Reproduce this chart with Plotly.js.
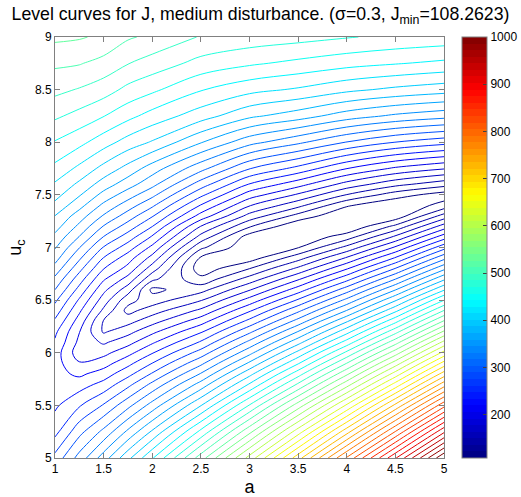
<!DOCTYPE html>
<html><head><meta charset="utf-8">
<script src="https://cdn.plot.ly/plotly-3.0.1.min.js"></script>
<style>html,body{margin:0;padding:0;background:#fff}</style>
</head><body><div id="chart" style="width:521px;height:497px"></div>
<script>
// grid coordinates (a along x, u_c along y)
const aValues = [1, 1.25, 1.5, 1.75, 2, 2.5, 3, 3.5, 4, 4.5, 5];
const ucValues = [5, 5.25, 5.5, 5.7, 5.8, 5.9, 6, 6.1, 6.2, 6.3, 6.4, 6.5, 6.6, 6.7, 6.8, 6.9, 7, 7.1, 7.2, 7.3, 7.4, 7.5, 7.6, 7.75, 8, 8.25, 8.5, 8.75, 9];
// J values, one column per a value (rows follow ucValues)
const J_a1_00 = [289, 260, 245, 238, 237, 238, 240, 246, 252, 263, 275, 287, 301, 314, 329, 343, 355, 366, 378, 388, 401, 412, 421, 436, 457, 479, 498, 514, 532];
const J_a1_25 = [325, 295, 264, 240, 227, 215, 203, 209, 214, 223, 234, 246, 260, 274, 289, 304, 319, 335, 349, 362, 377, 390, 402, 419, 446, 470, 492, 512, 530];
const J_a1_50 = [362, 323, 285, 254, 239, 223, 208, 193, 176, 177, 192, 205, 218, 233, 249, 265, 282, 300, 317, 334, 349, 365, 380, 400, 431, 459, 484, 505, 525];
const J_a1_75 = [401, 357, 313, 278, 260, 243, 225, 207, 190, 172, 155, 167, 187, 207, 225, 239, 257, 275, 293, 310, 327, 344, 361, 382, 416, 446, 471, 494, 513];
const J_a2_00 = [439, 391, 343, 305, 285, 266, 247, 228, 209, 189, 170, 151, 139, 165, 187, 207, 226, 246, 266, 285, 304, 323, 341, 362, 404, 434, 462, 486, 507];
const J_a2_50 = [520, 463, 405, 360, 337, 314, 291, 268, 246, 223, 200, 177, 154, 131, 115, 123, 147, 172, 195, 224, 247, 270, 292, 324, 372, 414, 442, 470, 492];
const J_a3_00 = [605, 541, 477, 425, 400, 374, 348, 323, 297, 271, 246, 220, 194, 168, 143, 117, 112, 117, 145, 172, 197, 222, 247, 284, 342, 392, 429, 461, 486];
const J_a3_50 = [696, 625, 554, 496, 468, 439, 411, 382, 354, 325, 297, 268, 239, 211, 182, 154, 125, 111, 111, 137, 166, 193, 220, 260, 322, 379, 421, 454, 482];
const J_a4_00 = [793, 714, 636, 573, 542, 511, 480, 448, 417, 386, 354, 323, 292, 260, 229, 198, 166, 135, 110, 110, 128, 160, 189, 231, 300, 362, 410, 447, 477];
const J_a4_50 = [894, 809, 725, 657, 623, 589, 555, 521, 487, 453, 419, 386, 352, 318, 284, 250, 216, 182, 148, 114, 111, 134, 166, 210, 283, 350, 402, 442, 472];
const J_a5_00 = [1000, 910, 820, 747, 711, 675, 639, 603, 566, 530, 494, 458, 421, 385, 349, 313, 277, 240, 204, 168, 132, 117, 150, 197, 272, 342, 396, 437, 469];
const Jmin = 108.2623;
const Jmax = 1000;
const xTicks = [1, 1.5, 2, 2.5, 3, 3.5, 4, 4.5, 5];
const yTicks = [5, 5.5, 6, 6.5, 7, 7.5, 8, 8.5, 9];
const cbTicks = [200, 300, 400, 500, 600, 700, 800, 900, 1000];

const columns = [J_a1_00, J_a1_25, J_a1_50, J_a1_75, J_a2_00, J_a2_50, J_a3_00, J_a3_50, J_a4_00, J_a4_50, J_a5_00];
const z = ucValues.map((u, i) => columns.map(col => col[i]));

// MATLAB-like jet colormap: continuous for the lines, 64 bands for the colorbar
function jet(t) {
  const r = Math.max(0, Math.min(1, Math.min(4 * t - 1.5, -4 * t + 4.5)));
  const g = Math.max(0, Math.min(1, Math.min(4 * t - 0.5, -4 * t + 3.5)));
  const b = Math.max(0, Math.min(1, Math.min(4 * t + 0.5, -4 * t + 2.5)));
  return 'rgb(' + Math.round(r * 255) + ',' + Math.round(g * 255) + ',' + Math.round(b * 255) + ')';
}
const smoothScale = [];
for (let i = 0; i <= 64; i++) smoothScale.push([i / 64, jet(i / 64)]);
const bandScale = [];
for (let i = 0; i < 64; i++) {
  const c = jet((i + 0.5) / 64);
  bandScale.push([i / 64, c]);
  bandScale.push([(i + 1) / 64, c]);
}

const font = "Arial, 'Liberation Sans', sans-serif";
const traces = [
  {
    type: 'contour', x: aValues, y: ucValues, z: z,
    zmin: Jmin, zmax: Jmax, zauto: false,
    colorscale: smoothScale, showscale: false,
    contours: {coloring: 'lines', start: 125.8, end: 1000, size: 17.5},
    line: {width: 1, smoothing: 1},
    hoverinfo: 'skip'
  },
  {
    type: 'scatter', mode: 'markers', x: [-10, -10], y: [-10, -10],
    hoverinfo: 'skip', showlegend: false,
    marker: {
      size: 1, color: [Jmin, Jmax], cmin: Jmin, cmax: Jmax, colorscale: bandScale, showscale: true,
      colorbar: {
        x: 1.046, xanchor: 'left', y: 0.5, yanchor: 'middle', len: 1, lenmode: 'fraction',
        thickness: 25, thicknessmode: 'pixels', xpad: 0, ypad: 0,
        outlinewidth: 1, outlinecolor: '#808080',
        tickvals: cbTicks, ticks: 'inside', ticklen: 4, tickcolor: '#404040',
        tickfont: {family: font, size: 12, color: '#000'}
      }
    }
  }
];

const axisCommon = {
  showgrid: false, zeroline: false, showline: true, linecolor: '#808080', linewidth: 1,
  mirror: 'ticks', ticks: 'inside', ticklen: 5, tickcolor: '#808080',
  tickfont: {family: font, size: 12, color: '#000'}
};

const layout = {
  width: 521, height: 497,
  margin: {l: 55, r: 77, t: 37, b: 39, pad: 0, autoexpand: false},
  paper_bgcolor: '#fff', plot_bgcolor: '#fff',
  showlegend: false,
  title: {
    text: 'Level curves for J, medium disturbance. (σ=0.3, J<sub>min</sub>=108.2623)',
    font: {family: font, size: 17.7, color: '#000'},
    x: 0.5, xref: 'container', xanchor: 'center', y: 0.972, yref: 'container', yanchor: 'middle'
  },
  xaxis: Object.assign({}, axisCommon, {
    range: [1, 5], tickvals: xTicks, ticktext: xTicks.map(String),
    title: {text: 'a', font: {family: font, size: 18, color: '#000'}, standoff: 4}
  }),
  yaxis: Object.assign({}, axisCommon, {
    range: [5, 9], tickvals: yTicks, ticktext: yTicks.map(String),
    title: {text: 'u<sub>c</sub>', font: {family: font, size: 18, color: '#000'}, standoff: 8}
  })
};

Plotly.newPlot('chart', traces, layout, {displayModeBar: false, staticPlot: true});
</script>
</body></html>
